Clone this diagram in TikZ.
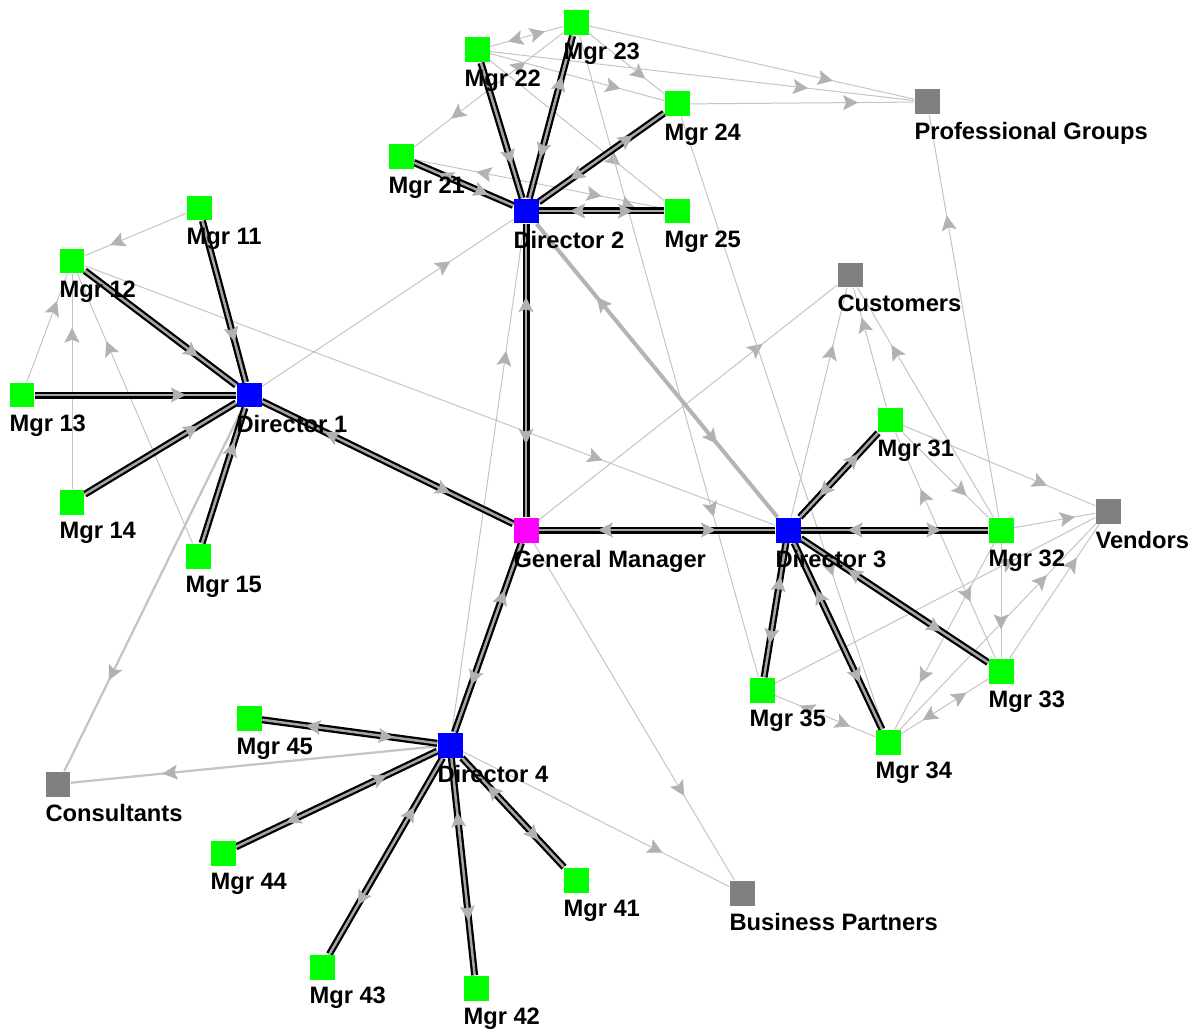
\documentclass[tikz,border=0pt]{standalone}
\usepackage{fontspec}
\setmainfont{Liberation Sans}
\usetikzlibrary{arrows.meta,decorations.markings,backgrounds}

\definecolor{mgrgreen}{RGB}{0,255,0}
\definecolor{dirblue}{RGB}{0,0,255}
\definecolor{gmpink}{RGB}{255,0,255}
\definecolor{extgray}{RGB}{128,128,128}
\definecolor{linkgray}{RGB}{196,196,196}
\definecolor{widegray}{RGB}{180,180,180}
\definecolor{tipgray}{RGB}{178,178,178}
\definecolor{coregray}{RGB}{165,165,165}

\begin{document}
\begin{tikzpicture}[x = 0.02cm, y = -0.02cm,
    >={Stealth[length = 0.3cm, width = 0.3cm, inset = 0.06cm, line width = 0.4pt, color = tipgray]},
    box/.style = {rectangle, inner sep = 0pt, minimum size = 0.5cm},
    mgr/.style = {box, fill = mgrgreen},
    dir/.style = {box, fill = dirblue},
    gm/.style = {box, fill = gmpink},
    ext/.style = {box, fill = extgray},
    lbl/.style = {anchor = north west, inner sep = 0pt, yshift = -0.14cm,
                  font = \bfseries\fontsize{13.5}{16}\selectfont},
    fwd/.style = {postaction = {decorate, decoration = {markings,
                  mark = at position 0.75 with {\arrow{>}}}}},
    both/.style = {postaction = {decorate, decoration = {markings,
                  mark = at position 0.25 with {\arrowreversed{>}},
                  mark = at position 0.75 with {\arrow{>}}}}},
    weak/.style = {draw = linkgray, line width = 0.02cm},
    mid/.style = {draw = linkgray, line width = 0.045cm},
    wide/.style = {draw = widegray, line width = 0.08cm},
    strong/.style = {draw = coregray, line width = 0.05cm,
                     preaction = {draw = black, line width = 0.14cm}}]

      \useasboundingbox (0, 0) rectangle (1199, 1030);

      \node [gm, label = {[lbl]below left:General Manager}] (gm) at (526, 530){};

      \node [dir, label = {[lbl]below left:Director 1}] (d1) at (249, 395){};
      \node [dir, label = {[lbl]below left:Director 2}] (d2) at (526, 211){};
      \node [dir, label = {[lbl]below left:Director 3}] (d3) at (788, 530){};
      \node [dir, label = {[lbl]below left:Director 4}] (d4) at (450, 745){};

      \node [mgr, label = {[lbl]below left:Mgr 11}] (m11) at (199, 208){};
      \node [mgr, label = {[lbl]below left:Mgr 12}] (m12) at (72, 261){};
      \node [mgr, label = {[lbl]below left:Mgr 13}] (m13) at (22, 395){};
      \node [mgr, label = {[lbl]below left:Mgr 14}] (m14) at (72, 502){};
      \node [mgr, label = {[lbl]below left:Mgr 15}] (m15) at (198, 556){};

      \node [mgr, label = {[lbl]below left:Mgr 21}] (m21) at (401, 157){};
      \node [mgr, label = {[lbl]below left:Mgr 22}] (m22) at (477, 50){};
      \node [mgr, label = {[lbl]below left:Mgr 23}] (m23) at (576, 23){};
      \node [mgr, label = {[lbl]below left:Mgr 24}] (m24) at (677, 104){};
      \node [mgr, label = {[lbl]below left:Mgr 25}] (m25) at (677, 211){};

      \node [mgr, label = {[lbl]below left:Mgr 31}] (m31) at (890, 420){};
      \node [mgr, label = {[lbl]below left:Mgr 32}] (m32) at (1001, 530){};
      \node [mgr, label = {[lbl]below left:Mgr 33}] (m33) at (1001, 671){};
      \node [mgr, label = {[lbl]below left:Mgr 34}] (m34) at (888, 742){};
      \node [mgr, label = {[lbl]below left:Mgr 35}] (m35) at (762, 690){};

      \node [mgr, label = {[lbl]below left:Mgr 41}] (m41) at (576, 880){};
      \node [mgr, label = {[lbl]below left:Mgr 42}] (m42) at (476, 988){};
      \node [mgr, label = {[lbl]below left:Mgr 43}] (m43) at (322, 967){};
      \node [mgr, label = {[lbl]below left:Mgr 44}] (m44) at (223, 853){};
      \node [mgr, label = {[lbl]below left:Mgr 45}] (m45) at (249, 718){};

      \node [ext, label = {[lbl]below left:Professional Groups}] (pg) at (927, 102){};
      \node [ext, label = {[lbl]below left:Customers}] (cust) at (850, 275){};
      \node [ext, label = {[lbl]below left:Vendors}] (vend) at (1108, 511){};
      \node [ext, label = {[lbl]below left:Consultants}] (cons) at (58, 784){};
      \node [ext, label = {[lbl]below left:Business Partners}] (bp) at (742, 893){};

      \begin{pgfonlayer}{background}
      % light links
      \draw [weak, fwd] (d1) -- (d2);
      \draw [weak, fwd] (d4) -- (d2);
      \draw [weak, fwd] (gm) -- (cust);
      \draw [weak, fwd] (gm) -- (bp);
      \draw [weak, fwd] (d4) -- (bp);
      \draw [weak, fwd] (m12) -- (d3);

      \draw [weak, fwd] (m11) -- (m12);
      \draw [weak, fwd] (m13) -- (m12);
      \draw [weak, fwd] (m14) -- (m12);
      \draw [weak, fwd] (m15) -- (m12);

      \draw [weak, both] (m22) -- (m23);
      \draw [weak, both] (m21) -- (m23);
      \draw [weak, both] (m21) -- (m25);
      \draw [weak, fwd] (m22) -- (m24);
      \draw [weak, fwd] (m22) -- (m25);
      \draw [weak, fwd] (m23) -- (m24);
      \draw [weak, fwd] (m22) -- (pg);
      \draw [weak, fwd] (m23) -- (pg);
      \draw [weak, fwd] (m24) -- (pg);
      \draw [weak, both] (m23) -- (m35);
      \draw [weak, fwd] (m24) -- (m34);

      \draw [weak, fwd] (d3) -- (cust);
      \draw [weak, fwd] (m31) -- (cust);
      \draw [weak, fwd] (m32) -- (cust);
      \draw [weak, fwd] (m32) -- (pg);
      \draw [weak, fwd] (m31) -- (vend);
      \draw [weak, fwd] (m32) -- (vend);
      \draw [weak, fwd] (m33) -- (vend);
      \draw [weak, fwd] (m34) -- (vend);
      \draw [weak, fwd] (m35) -- (vend);
      \draw [weak, fwd] (m31) -- (m32);
      \draw [weak, fwd] (m32) -- (m33);
      \draw [weak, fwd] (m32) -- (m34);
      \draw [weak, both] (m31) -- (m33);
      \draw [weak, both] (m33) -- (m34);
      \draw [weak, both] (m34) -- (m35);

      \draw [mid, fwd] (d1) -- (cons);
      \draw [mid, fwd] (d4) -- (cons);
      \draw [wide, both] (d2) -- (d3);

      % reporting lines
      \draw [strong, both] (d1) -- (gm);
      \draw [strong, both] (d2) -- (gm);
      \draw [strong, both] (d3) -- (gm);
      \draw [strong, both] (d4) -- (gm);

      \draw [strong, fwd] (m11) -- (d1);
      \draw [strong, fwd] (m12) -- (d1);
      \draw [strong, fwd] (m13) -- (d1);
      \draw [strong, fwd] (m14) -- (d1);
      \draw [strong, fwd] (m15) -- (d1);

      \draw [strong, both] (m21) -- (d2);
      \draw [strong, fwd] (m22) -- (d2);
      \draw [strong, both] (m23) -- (d2);
      \draw [strong, both] (m24) -- (d2);
      \draw [strong, both] (m25) -- (d2);

      \draw [strong, both] (m31) -- (d3);
      \draw [strong, both] (m32) -- (d3);
      \draw [strong, both] (m33) -- (d3);
      \draw [strong, both] (m34) -- (d3);
      \draw [strong, both] (m35) -- (d3);

      \draw [strong, both] (m41) -- (d4);
      \draw [strong, both] (m42) -- (d4);
      \draw [strong, both] (m43) -- (d4);
      \draw [strong, both] (m44) -- (d4);
      \draw [strong, both] (m45) -- (d4);
      \end{pgfonlayer}

      \end{tikzpicture}
\end{document}
